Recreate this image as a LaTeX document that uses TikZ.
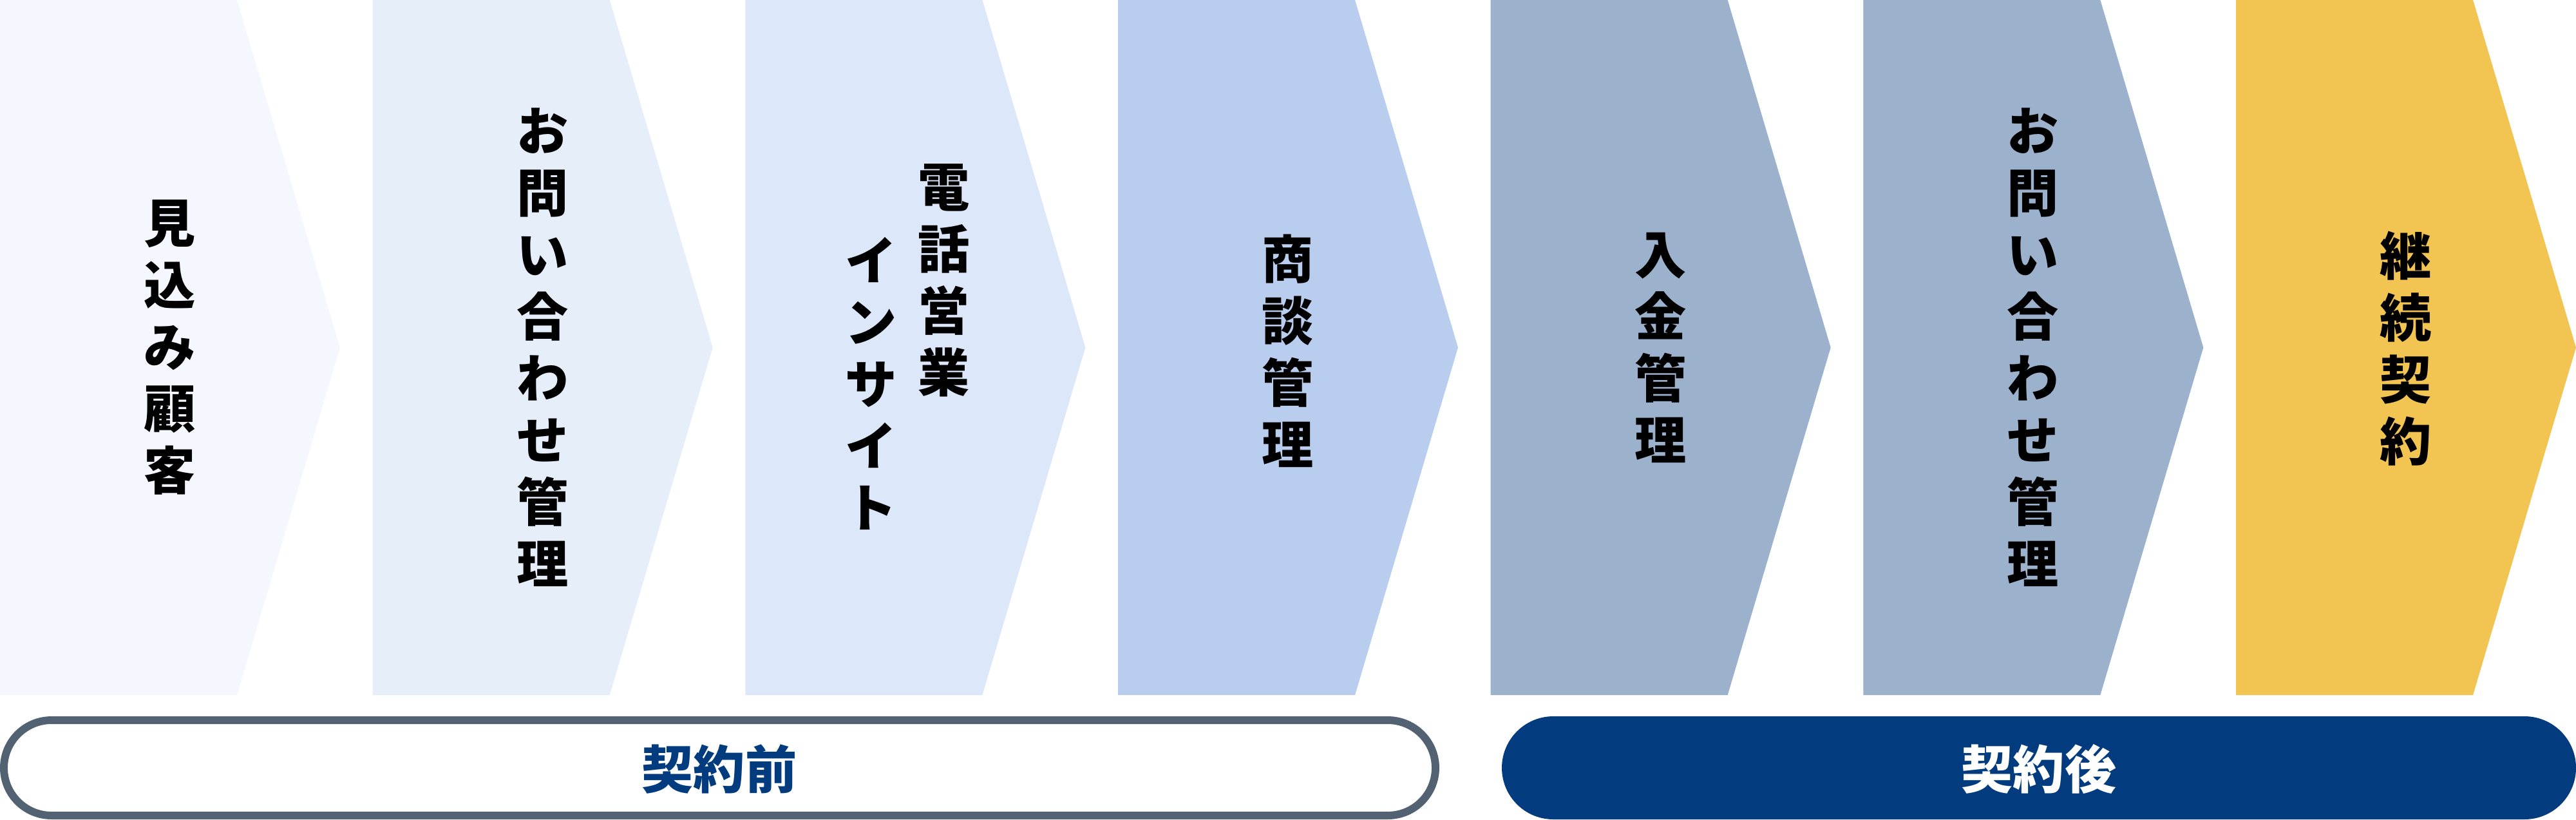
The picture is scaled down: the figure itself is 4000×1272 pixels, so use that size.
\documentclass[tikz,border=0pt]{standalone}
\usepackage{fontspec}
\newfontfamily\jp{Noto Sans CJK JP}
\definecolor{cA}{HTML}{F4F8FE}
\definecolor{cB}{HTML}{E6EEFA}
\definecolor{cC}{HTML}{DCE7F9}
\definecolor{cD}{HTML}{B9CDEE}
\definecolor{cE}{HTML}{9BB1CC}
\definecolor{cG}{HTML}{F2C451}
\definecolor{navy}{HTML}{033C7E}
\definecolor{slate}{HTML}{536272}
\newcommand\chevshape[2]{\fill[#2] (#1,0) -- ++(368,0) -- ++(160,539.5) -- ++(-160,539.5) -- ++(-368,0) -- cycle;}
\begin{document}
\begin{tikzpicture}[x=0.01cm,y=-0.01cm,
  vtext/.style={font=\jp\bfseries\fontsize{22.8pt}{27.3pt}\selectfont, align=center, inner sep=0pt, text=black},
  ptext/.style={font=\jp\bfseries\fontsize{22.8pt}{27.3pt}\selectfont, inner sep=0pt}]
\useasboundingbox (0,0) rectangle (4000,1272);
\fill[white] (0,0) rectangle (4000,1272);
\chevshape{0}{cA}
\chevshape{578.67}{cB}
\chevshape{1157.33}{cC}
\chevshape{1736}{cD}
\chevshape{2314.67}{cE}
\chevshape{2893.33}{cE}
\chevshape{3472}{cG}
\node[vtext] (t1) at (264,539) {見\\込\\み\\顧\\客};
\node[vtext] (t2) at (843,539) {お\\問\\い\\合\\わ\\せ\\管\\理};
\node[vtext] (t3a) at (1466,435) {電\\話\\営\\業};
\node[vtext] (t3b) at (1353,595) {イ\\ン\\サ\\イ\\ト};
\node[vtext] (t4) at (2000,545) {商\\談\\管\\理};
\node[vtext] (t5) at (2579,540) {入\\金\\管\\理};
\node[vtext] (t6) at (3157,539) {お\\問\\い\\合\\わ\\せ\\管\\理};
\node[vtext] (t7) at (3736,541) {継\\続\\契\\約};
\draw[slate, line width=3.4pt, fill=white, rounded corners=0.74cm] (6,1118) rectangle (2229,1266);
\fill[navy, rounded corners=0.8cm] (2332,1112) rectangle (4000,1272);
\node[ptext, text=navy] (pre) at (1117,1194) {契約前};
\node[ptext, text=white] (post) at (3166,1194) {契約後};
\end{tikzpicture}
\end{document}
